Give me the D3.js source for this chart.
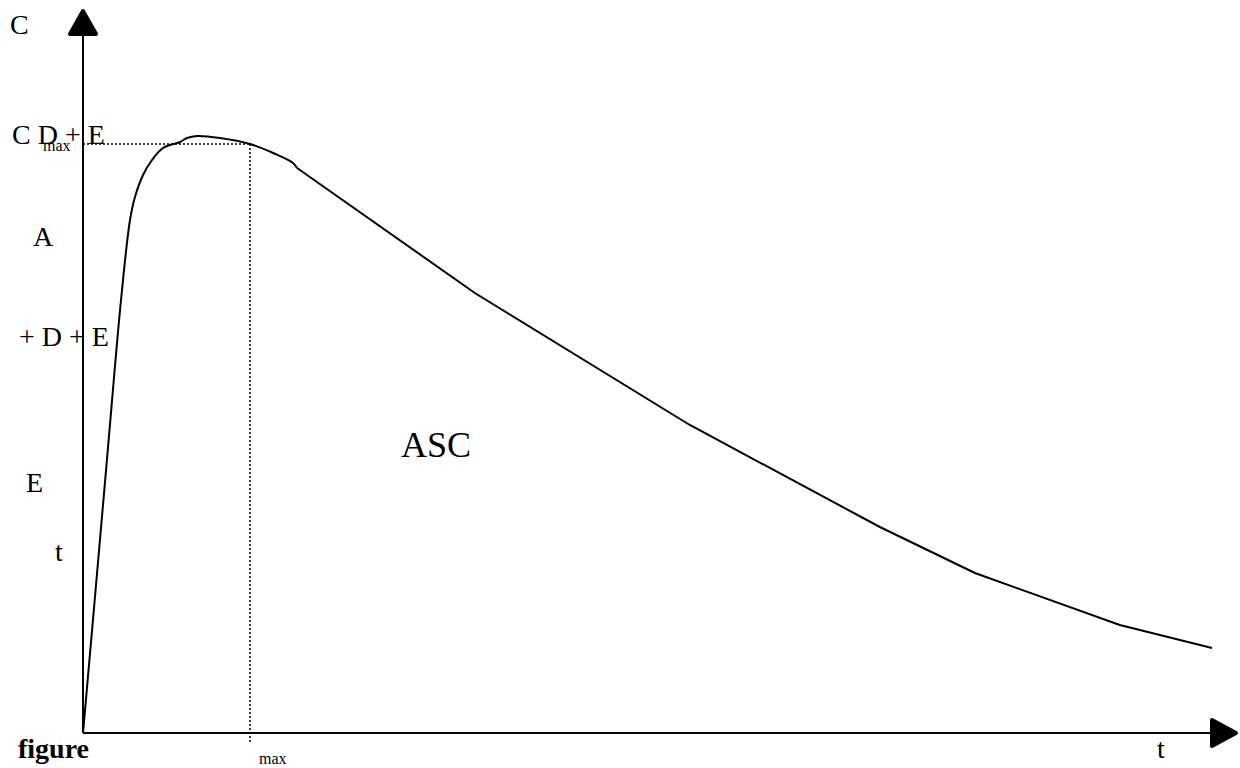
<!DOCTYPE html>
<html>
<head>
<meta charset="utf-8">
<script src="https://cdn.jsdelivr.net/npm/d3@7"></script>
<style>
  body { margin: 0; background: #fff; }
  svg { display: block; font-family: "Liberation Serif", "Times New Roman", serif; }
</style>
</head>
<body>
<div id="chart"></div>
<script>
// Concentration-time curve.
// Rising part and peak (drawn smooth)
const riseTimes = [0, 0.249, 0.527, 0.808, 0.999, 1.105, 1.276, 1.467, 1.70, 2.062, 2.211, 2.423, 2.912, 3.55, 4.039, 4.464, 4.55];
const riseConcs = [0, 2.66, 5.66, 8.66, 10.26, 10.72, 11.16, 11.46, 11.7, 11.82, 11.9, 11.94, 11.9, 11.78, 11.6, 11.4, 11.3];
// Elimination tail (drawn as straight segments)
const tailTimes = [4.55, 8.33, 12.9, 16.94, 18.96, 22.04, 24];
const tailConcs = [11.3, 8.8, 6.16, 4.12, 3.2, 2.16, 1.7];
const tMax = 3.55;
const cMax = 11.78;

const width = 1240, height = 768;
const origin = {x: 83, y: 733};

const x = d3.scaleLinear().domain([0, 24]).range([origin.x, 1212]);
const y = d3.scaleLinear().domain([0, 12]).range([origin.y, 133]);

const svg = d3.select('#chart')
    .append('svg')
    .attr('width', width)
    .attr('height', height);

// Axes with arrow heads
svg.append('line')
    .attr('x1', origin.x).attr('y1', origin.y)
    .attr('x2', origin.x).attr('y2', 34)
    .attr('stroke', '#000').attr('stroke-width', 2);

svg.append('line')
    .attr('x1', origin.x).attr('y1', origin.y)
    .attr('x2', 1212).attr('y2', origin.y)
    .attr('stroke', '#000').attr('stroke-width', 2);

svg.append('path')
    .attr('d', `M${origin.x},11 L${origin.x - 13},34 L${origin.x + 13},34 Z`)
    .attr('fill', '#000').attr('stroke', '#000')
    .attr('stroke-width', 4).attr('stroke-linejoin', 'round');

svg.append('path')
    .attr('d', `M1236,${origin.y} L1212,${origin.y - 13} L1212,${origin.y + 13} Z`)
    .attr('fill', '#000').attr('stroke', '#000')
    .attr('stroke-width', 4).attr('stroke-linejoin', 'round');

// Dotted guides for Cmax / tmax
svg.append('line')
    .attr('x1', x(0)).attr('y1', y(cMax))
    .attr('x2', x(tMax)).attr('y2', y(cMax))
    .attr('stroke', '#000').attr('stroke-width', 1.5)
    .attr('stroke-dasharray', '2,2');

svg.append('line')
    .attr('x1', x(tMax)).attr('y1', y(cMax))
    .attr('x2', x(tMax)).attr('y2', origin.y + 9)
    .attr('stroke', '#000').attr('stroke-width', 1.5)
    .attr('stroke-dasharray', '2,2');

// The curve
const smooth = d3.line()
    .x((d, i) => x(riseTimes[i]))
    .y(d => y(d))
    .curve(d3.curveCatmullRom.alpha(0.5));

const straight = d3.line()
    .x((d, i) => x(tailTimes[i]))
    .y(d => y(d));

svg.append('path')
    .datum(riseConcs)
    .attr('d', smooth)
    .attr('fill', 'none')
    .attr('stroke', '#000')
    .attr('stroke-width', 2);

svg.append('path')
    .datum(tailConcs)
    .attr('d', straight)
    .attr('fill', 'none')
    .attr('stroke', '#000')
    .attr('stroke-width', 2);

// Labels
const labels = [
    {text: 'C', x: 10, y: 34, size: 28},
    {text: 'C D + E', x: 12, y: 144, size: 28},
    {text: 'max', x: 43, y: 151, size: 16},
    {text: 'A', x: 33, y: 246, size: 28},
    {text: '+ D + E', x: 19, y: 346, size: 28},
    {text: 'E', x: 26, y: 492, size: 28},
    {text: 't', x: 55, y: 561, size: 28},
    {text: 'ASC', x: 401, y: 457, size: 36},
    {text: 't', x: 1157, y: 758, size: 28},
    {text: 'max', x: 259, y: 764, size: 16}
];

svg.selectAll('text.lbl')
    .data(labels)
    .enter().append('text')
    .attr('class', 'lbl')
    .attr('x', d => d.x)
    .attr('y', d => d.y)
    .style('font-size', d => d.size + 'px')
    .attr('xml:space', 'preserve')
    .text(d => d.text);

svg.append('text')
    .attr('x', 18)
    .attr('y', 758)
    .style('font-size', '28px')
    .style('font-weight', 'bold')
    .text('figure');
</script>
</body>
</html>
